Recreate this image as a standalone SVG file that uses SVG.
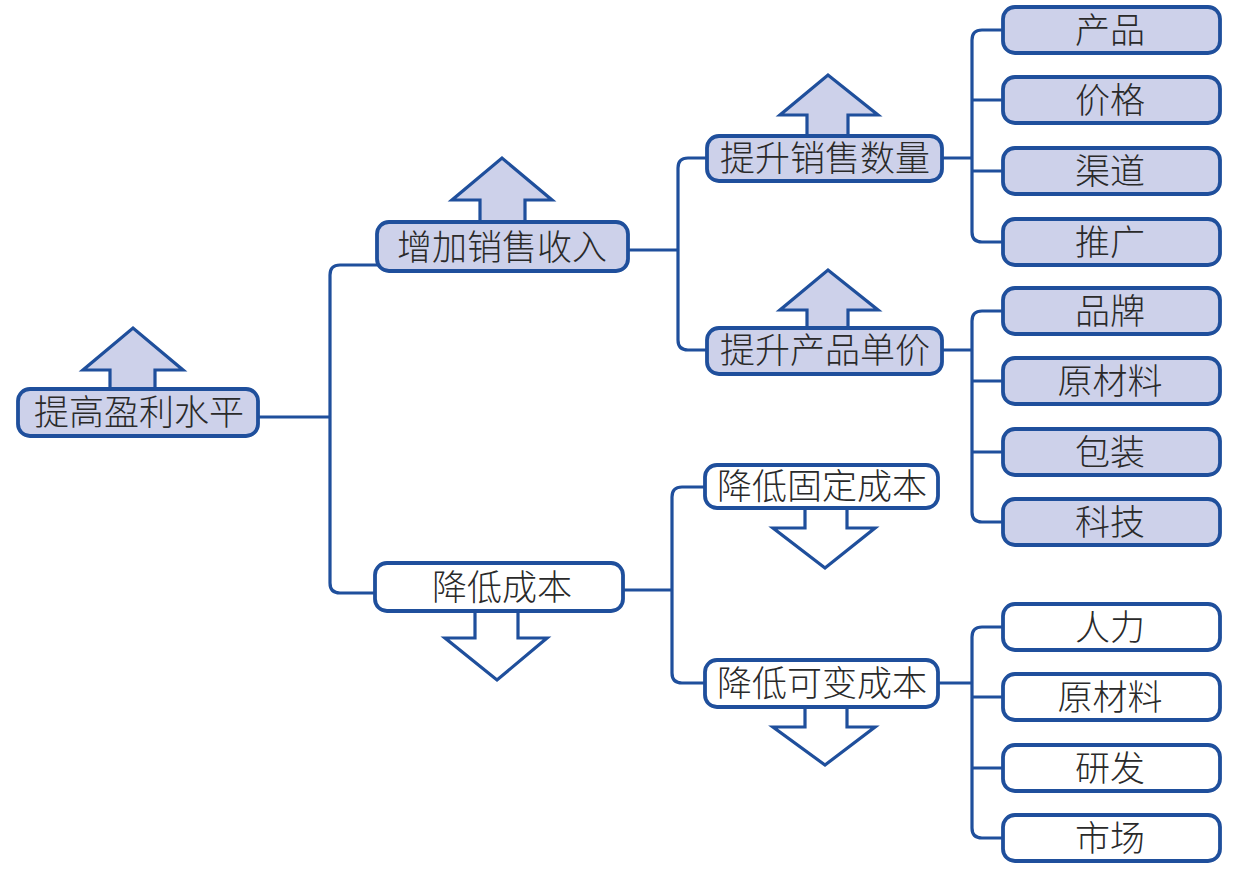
<svg xmlns="http://www.w3.org/2000/svg" width="1235" height="871" viewBox="0 0 1235 871">
<style>
.ln{fill:none;stroke:#1f4f9c;stroke-width:3.2;stroke-linecap:round;stroke-linejoin:round}
.bx{fill:#cdd1ea;stroke:#1f4f9c;stroke-width:3.8}
.bw{fill:#ffffff;stroke:#1f4f9c;stroke-width:3.8}
.ar{fill:#cdd1ea;stroke:#1f4f9c;stroke-width:3.2;stroke-linejoin:miter}
.aw{fill:#ffffff;stroke:#1f4f9c;stroke-width:3.2;stroke-linejoin:miter}
text{font-family:"Noto Sans CJK SC","Noto Sans",sans-serif;font-size:35px;font-weight:300;fill:#2a2a2a;text-anchor:middle}
</style>
<rect width="1235" height="871" fill="#ffffff"/>
<g id="connectors">
<path class="ln" d="M258 417 H330 M378 265 H340 Q330 265 330 275 V583 Q330 593 340 593 H375"/>
<path class="ln" d="M628 250 H678 M707 158 H688 Q678 158 678 168 V340 Q678 350 688 350 H707"/>
<path class="ln" d="M623 590 H672 M705 487 H682 Q672 487 672 497 V673 Q672 683 682 683 H705"/>
<path class="ln" d="M942 158 H972 M1003 30 H982 Q972 30 972 40 V232 Q972 242 982 242 H1003 M972 100 H1003 M972 171 H1003"/>
<path class="ln" d="M942 350 H972 M1003 311 H982 Q972 311 972 321 V512 Q972 522 982 522 H1003 M972 381 H1003 M972 452 H1003"/>
<path class="ln" d="M938 683 H972 M1003 627 H982 Q972 627 972 637 V828 Q972 838 982 838 H1003 M972 697 H1003 M972 768 H1003"/>
</g>
<g id="n-root">
<polygon class="ar" points="110,392 110,370 83,370 133,328 183,370 155,370 155,392"/>
<rect class="bx" x="18" y="389" width="240" height="47" rx="12"/>
<text x="139" y="425">提高盈利水平</text>
</g>
<g id="n-revenue">
<polygon class="ar" points="480,224 480,200 452,200 502,158 552,200 525,200 525,224"/>
<rect class="bx" x="377" y="222" width="251" height="49" rx="12"/>
<text x="502" y="260">增加销售收入</text>
</g>
<g id="n-cost">
<polygon class="aw" points="475,608 475,638 445,638 497,680 547,638 518,638 518,608"/>
<rect class="bw" x="375" y="563" width="248" height="48" rx="12"/>
<text x="502" y="600">降低成本</text>
</g>
<g id="n-qty">
<polygon class="ar" points="807,138 807,115 780,115 828,75 878,115 848,115 848,138"/>
<rect class="bx" x="707" y="136" width="235" height="45" rx="12"/>
<text x="825" y="171">提升销售数量</text>
</g>
<g id="n-price">
<polygon class="ar" points="807,330 807,310 780,310 828,270 878,310 848,310 848,330"/>
<rect class="bx" x="707" y="328" width="235" height="46" rx="12"/>
<text x="825" y="363">提升产品单价</text>
</g>
<g id="n-fixed">
<polygon class="aw" points="805,505 805,528 773,528 825,568 875,528 847,528 847,505"/>
<rect class="bw" x="705" y="465" width="233" height="43" rx="12"/>
<text x="822" y="499">降低固定成本</text>
</g>
<g id="n-variable">
<polygon class="aw" points="805,705 805,727 773,727 825,765 875,727 847,727 847,705"/>
<rect class="bw" x="705" y="660" width="233" height="47" rx="12"/>
<text x="822" y="696">降低可变成本</text>
</g>
<g id="n-l1"><rect class="bx" x="1003" y="7" width="217" height="46" rx="12"/><text x="1110" y="43">产品</text></g>
<g id="n-l2"><rect class="bx" x="1003" y="77" width="217" height="46" rx="12"/><text x="1110" y="113">价格</text></g>
<g id="n-l3"><rect class="bx" x="1003" y="148" width="217" height="46" rx="12"/><text x="1110" y="184">渠道</text></g>
<g id="n-l4"><rect class="bx" x="1003" y="219" width="217" height="46" rx="12"/><text x="1110" y="255">推广</text></g>
<g id="n-l5"><rect class="bx" x="1003" y="288" width="217" height="46" rx="12"/><text x="1110" y="324">品牌</text></g>
<g id="n-l6"><rect class="bx" x="1003" y="358" width="217" height="46" rx="12"/><text x="1110" y="394">原材料</text></g>
<g id="n-l7"><rect class="bx" x="1003" y="429" width="217" height="46" rx="12"/><text x="1110" y="465">包装</text></g>
<g id="n-l8"><rect class="bx" x="1003" y="499" width="217" height="46" rx="12"/><text x="1110" y="535">科技</text></g>
<g id="n-l9"><rect class="bw" x="1003" y="604" width="217" height="46" rx="12"/><text x="1110" y="640">人力</text></g>
<g id="n-l10"><rect class="bw" x="1003" y="674" width="217" height="46" rx="12"/><text x="1110" y="710">原材料</text></g>
<g id="n-l11"><rect class="bw" x="1003" y="745" width="217" height="46" rx="12"/><text x="1110" y="781">研发</text></g>
<g id="n-l12"><rect class="bw" x="1003" y="815" width="217" height="46" rx="12"/><text x="1110" y="851">市场</text></g>
</svg>
